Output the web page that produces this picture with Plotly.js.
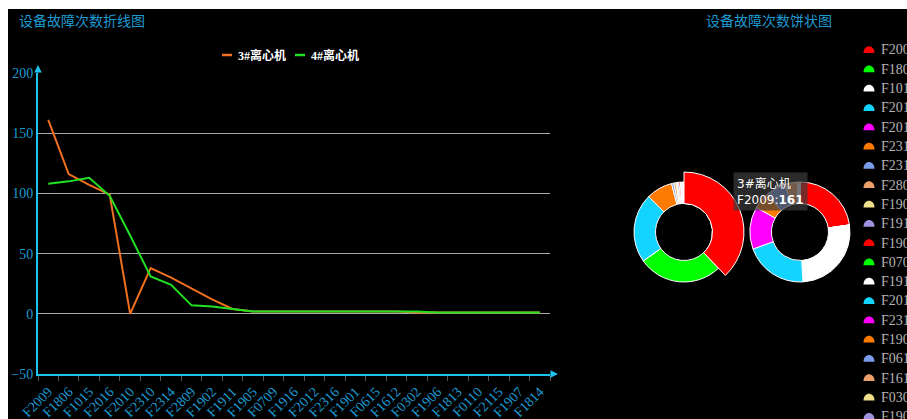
<!DOCTYPE html>
<html><head><meta charset="utf-8">
<script src="https://cdn.plot.ly/plotly-3.0.1.min.js"></script>
<style>
html,body{margin:0;padding:0;background:#fff;overflow:hidden;width:907px;height:419px;}
#chart{position:absolute;left:8px;top:9px;width:960px;height:560px;background:#000;}
</style></head><body><div id="chart"></div>
<script>
// ---- data ----
const categories = ['F2009','F1806','F1015','F2016','F2010','F2310','F2314','F2809','F1902','F1911','F1905','F0709','F1916','F2012','F2316','F1901','F0615','F1612','F0302','F1906','F1813','F0110','F2115','F1907','F1814'];
const seriesNames = ['3#离心机','4#离心机'];
const series3 = [161,116,107,99,0,38,30,21,12,4,2,2,2,2,2,2,2,2,1,1,1,1,1,1,1];
const series4 = [108,110,113,98,65,31,24,7,6,4,2,2,2,2,2,2,2,2,2,1,1,1,1,1,1];
const pie3 = [161,116,0,95,0,36,3,3,2,2,2,1,1,1,1,1,0,0,0,0,0,0,0,0,0];
const pie4 = [108,0,125,97,65,26,31,19,1,1,2,0,0,0,0,0,0,0,0,0,0,0,0,0,0];
const palette = ['#ff0000','#00ff00','#ffffff','#13d4ff','#ff00ff','#ff7a00','#7b9ce8','#eea06a','#f0e08c','#9d94e0'];
const lineColors = ['#f07020','#22e022'];
const chartTitles = ['设备故障次数折线图','设备故障次数饼状图'];
const tipIndex = 0;

// ---- geometry helpers (page px -> paper) ----
const W=960,H=560,OX=8,OY=9;
const px = x => (x-OX)/W;
const py = y => 1-(y-OY)/H;
const cyanText = '#1e9ad0', axisCyan = '#1ec3ee';
const pieColors = categories.map((_,i)=>palette[i%palette.length]);
function pieDomain(cx, cy, r){ return {x:[px(cx-r),px(cx+r)], y:[py(cy+r),py(cy-r)]}; }

const traces = [
  {type:'scatter', mode:'lines', x:categories, y:series3, name:seriesNames[0], line:{color:lineColors[0], width:2}, showlegend:false},
  {type:'scatter', mode:'lines', x:categories, y:series4, name:seriesNames[1], line:{color:lineColors[1], width:2}, showlegend:false},
  {type:'pie', labels:categories, values:pie3, name:seriesNames[0], domain:pieDomain(684,232,50), hole:0.57, sort:false, direction:'clockwise', rotation:0,
   textinfo:'none', showlegend:false, marker:{colors:pieColors, line:{color:'#ffffff', width:1}}},
  {type:'pie', labels:categories, values:pie4, name:seriesNames[1], domain:pieDomain(800,232,50), hole:0.57, sort:false, direction:'clockwise', rotation:0,
   textinfo:'none', showlegend:false, marker:{colors:pieColors, line:{color:'#ffffff', width:1}}},
  // hovered (enlarged) slice of the left pie
  {type:'pie', labels:categories, values:pie3, domain:pieDomain(684,232,60), hole:0.475, sort:false, direction:'clockwise', rotation:0,
   textinfo:'none', showlegend:false,
   marker:{colors:categories.map((_,i)=> i===tipIndex ? pieColors[i] : 'rgba(0,0,0,0)'),
           line:{color:'#ffffff', width:categories.map((_,i)=> i===tipIndex ? 1 : 0)}}}
];

const shapes = [], annotations = [];
// line-series legend (top centre)
const lgItems = [{lx:222, tx:236}, {lx:295, tx:309}];
seriesNames.forEach((n,i)=>{
  shapes.push({type:'line', xref:'paper', yref:'paper', x0:px(lgItems[i].lx), x1:px(lgItems[i].lx+10), y0:py(55), y1:py(55),
               line:{color:lineColors[i], width:2.5}});
  annotations.push({xref:'paper', yref:'paper', x:px(lgItems[i].tx), y:py(55), xanchor:'left', yanchor:'middle', showarrow:false,
               text:'<b>'+n+'</b>', font:{family:'Liberation Serif, Noto Sans CJK SC', size:12, color:'#ffffff'}});
});
// pie legend (right edge, partly outside the window like the original)
categories.forEach((c,i)=>{
  const yc = 50 + 19.3*i;
  const x0 = px(863.5), x1 = px(874.5), yb = py(yc+3), yt = py(yc-6);
  shapes.push({type:'path', xref:'paper', yref:'paper', path:`M ${x0},${yb} C ${x0},${yt} ${x1},${yt} ${x1},${yb} Z`,
               fillcolor:pieColors[i], line:{width:0}});
  annotations.push({xref:'paper', yref:'paper', x:px(879), y:py(yc), xanchor:'left', yanchor:'middle', showarrow:false,
               text:c, font:{family:'Liberation Serif, serif', size:14, color:'#b4b4b4'}});
});
annotations.push(
  {xref:'paper', yref:'paper', x:px(17), y:py(20), xanchor:'left', yanchor:'middle', showarrow:false, text:chartTitles[0],
   font:{family:'Noto Sans CJK SC', size:14, color:cyanText}},
  {xref:'paper', yref:'paper', x:px(704), y:py(20), xanchor:'left', yanchor:'middle', showarrow:false, text:chartTitles[1],
   font:{family:'Noto Sans CJK SC', size:14, color:cyanText}},
  {xref:'paper', yref:'paper', x:px(733), y:py(172), xanchor:'left', yanchor:'top', showarrow:false, align:'left',
   text: seriesNames[0] + '<br>' + categories[tipIndex] + ':<b>' + pie3[tipIndex] + '</b>',
   bgcolor:'rgba(60,60,60,0.7)', borderpad:3,
   font:{family:'DejaVu Sans, Noto Sans CJK SC', size:12, color:'#ffffff'}},
  {xref:'paper', yref:'paper', x:px(38), y:py(65), ax:0, ay:9, showarrow:true, arrowhead:2, arrowsize:1, arrowwidth:1.5, arrowcolor:axisCyan, text:''},
  {xref:'paper', yref:'paper', x:px(558), y:py(374), ax:-9, ay:0, showarrow:true, arrowhead:2, arrowsize:1, arrowwidth:1.5, arrowcolor:axisCyan, text:''}
);

const layout = {
  width:W, height:H, margin:{l:0,r:0,t:0,b:0},
  paper_bgcolor:'#000', plot_bgcolor:'#000', showlegend:false,
  xaxis:{domain:[px(38),px(550)], type:'category', range:[-0.5,24.5], showline:true, linecolor:axisCyan, linewidth:2,
         ticks:'outside', tickson:'boundaries', ticklen:5, tickcolor:'#555', tickangle:-45, showgrid:false, zeroline:false,
         ticklabelstandoff:2,
         tickfont:{family:'Liberation Serif, serif', size:14, color:cyanText}},
  yaxis:{domain:[py(374),py(73)], range:[-50,200], dtick:50, tick0:0, showline:true, linecolor:axisCyan, linewidth:2,
         gridcolor:'#aaaaaa', gridwidth:1, zeroline:false, ticks:'',
         tickfont:{family:'Liberation Serif, serif', size:14, color:cyanText}},
  shapes, annotations
};
Plotly.newPlot('chart', traces, layout, {staticPlot:true, displayModeBar:false});
</script></body></html>
